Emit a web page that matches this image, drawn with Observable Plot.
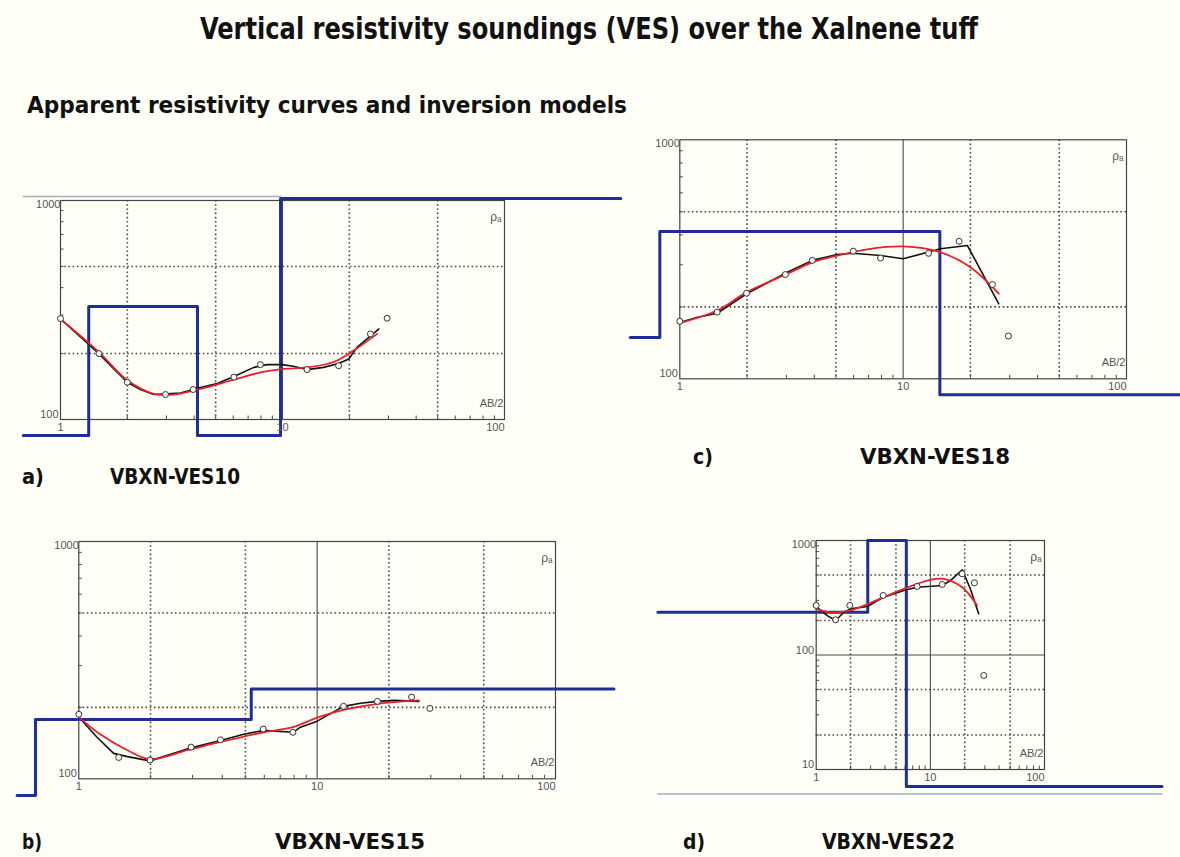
<!DOCTYPE html>
<html><head><meta charset="utf-8">
<script src="https://cdn.jsdelivr.net/npm/d3@7"></script>
<script src="https://cdn.jsdelivr.net/npm/@observablehq/plot@0.6"></script>
<style>
html,body{margin:0;padding:0;background:#fffff7;}
#page{position:relative;width:1180px;height:857px;overflow:hidden;background:#fffff7;}
.t{position:absolute;white-space:nowrap;font-family:"Liberation Sans Narrow","DejaVu Sans Condensed",sans-serif;font-weight:bold;color:#111;transform-origin:0 0;line-height:1;}
.panel{position:absolute;}
</style></head><body><div id="page"></div>
<script>
// ---------- VES10 (a) ----------
const ves10ObsAB  = [1, 1.49, 2.0, 2.97, 3.96, 6.04, 7.95, 12.9, 17.9, 24.9, 29.6];
const ves10ObsRho = [289, 200, 148, 130, 137, 156, 178, 169, 176, 246, 290];
const ves10FieldAB  = [1, 1.23, 1.49, 1.74, 2.0, 2.29, 2.63, 3.47, 4.27, 5.08, 6.04, 7.43, 8.53, 9.96, 11.2, 12.9, 15.3, 17.9, 19.9, 21.7, 27.2];
const ves10FieldRho = [288, 238, 200, 170, 148, 137, 130, 132, 140, 146, 157, 173, 178, 178, 175, 169, 173, 180, 189, 214, 259];
const ves10FitAB  = [1, 1.49, 2.0, 2.63, 3.24, 4.27, 6.04, 7.95, 9.96, 12.9, 17.0, 21.0, 26.7];
const ves10FitRho = [288, 203, 151, 131, 130, 138, 152, 164, 170, 173, 183, 207, 246];
const ves10ModelAB  = [0.68, 1.34, 4.14, 9.8, 334];
const ves10ModelRho = [84.5, 328, 84.5, 1020, 1020];

// ---------- VES18 (c) ----------
const ves18ObsAB  = [1.0, 1.47, 1.99, 2.97, 3.92, 5.98, 7.92, 13.0, 17.8, 25.1, 29.6];
const ves18ObsRho = [174, 190, 228, 273, 313, 342, 320, 335, 376, 248, 151];
const ves18FieldAB  = [1.0, 1.20, 1.47, 1.99, 3.03, 3.92, 5.07, 5.98, 7.92, 10.0, 13.0, 14.7, 19.4, 26.8];
const ves18FieldRho = [172, 181, 188, 227, 279, 313, 331, 335, 328, 318, 339, 350, 361, 206];
const ves18FitAB  = [1.0, 1.47, 1.99, 3.03, 3.92, 5.07, 7.14, 10.0, 14.6, 20.0, 26.8];
const ves18FitRho = [171, 193, 230, 275, 307, 328, 350, 358, 339, 293, 227];
const ves18ModelAB  = [0.60, 0.814, 14.6, 174];
const ves18ModelRho = [149, 413, 85.8, 85.8];

// ---------- VES15 (b) ----------
const ves15ObsAB  = [1.0, 1.47, 1.99, 2.96, 3.93, 5.94, 7.91, 12.9, 17.9, 24.9, 29.7];
const ves15ObsRho = [187, 123, 120, 136, 146, 162, 157, 202, 212, 221, 198];
const ves15FieldAB  = [1.0, 1.19, 1.40, 1.60, 1.99, 2.96, 3.93, 4.92, 5.94, 7.91, 8.51, 10.0, 12.9, 15.2, 17.9, 21.0, 26.7];
const ves15FieldRho = [182, 150, 128, 124, 119, 135, 145, 154, 160, 157, 165, 175, 202, 208, 212, 214, 212];
const ves15FitAB  = [1.0, 1.23, 1.60, 1.99, 2.85, 3.93, 5.94, 7.91, 10.0, 12.9, 17.9, 26.7];
const ves15FitRho = [182, 154, 132, 121, 132, 143, 157, 165, 181, 195, 207, 214];
const ves15ModelAB  = [0.551, 0.658, 5.29, 176];
const ves15ModelRho = [85, 178, 239, 239];

// ---------- VES22 (d) ----------
const ves22ObsAB  = [1.0, 1.48, 1.97, 3.86, 7.66, 12.7, 19.0, 24.3, 29.4];
const ves22ObsRho = [271, 203, 271, 331, 397, 413, 512, 427, 66.2];
const ves22FieldAB  = [1.0, 1.25, 1.48, 1.75, 2.0, 2.80, 3.91, 5.85, 7.66, 12.7, 15.0, 19.0, 22.4, 26.5];
const ves22FieldRho = [265, 221, 200, 236, 253, 265, 320, 366, 391, 404, 447, 555, 379, 229];
const ves22FitAB  = [1.0, 1.33, 2.0, 3.91, 5.85, 10.0, 13.1, 19.0, 25.7];
const ves22FitRho = [253, 236, 245, 320, 379, 454, 463, 391, 271];
const ves22ModelAB  = [0.041, 2.83, 6.16, 1070];
const ves22ModelRho = [236, 1000, 7.1, 7.1];

// ---------- axes ----------
const xTickLabels = [1, 10, 100];
const xGridDotted = [2, 5, 20, 50];
const xGridSolid = [10];
const xMinor = [2, 3, 4, 5, 6, 7, 8, 9, 20, 30, 40, 50, 60, 70, 80, 90];
const yMinor1 = [200, 300, 400, 500, 600, 700, 800, 900];
const yMinor2 = [20, 30, 40, 50, 60, 70, 80, 90, 200, 300, 400, 500, 600, 700, 800, 900];
const yGrid1 = [200, 500];
const yGrid2 = [20, 50, 200, 500];

const page = document.getElementById("page");
const zip = (a, b) => a.map((v, i) => ({ab: v, rho: b[i]}));

function panel(o) {
  const [fx0, fy0, fx1, fy1] = o.frame;
  const ml = fx0 - o.left, mt = fy0 - o.top, mr = o.left + o.width - fx1, mb = o.top + o.height - fy1;
  const pxDecX = (fx1 - fx0) / 2;
  const pxDecY = (fy1 - fy0) / Math.log10(o.yDomain[1] / o.yDomain[0]);
  const tx = Math.pow(10, 3.5 / pxDecX), ty = Math.pow(10, 3.5 / pxDecY);
  const y0 = o.yDomain[0];
  const gray = "#4a4a4a";
  const lbl = {fill: "#555", fontSize: 11, fontFamily: "Liberation Sans, Arial, sans-serif"};
  const marks = [
    Plot.ruleX(xGridDotted, {stroke: gray, strokeWidth: 1.6, strokeDasharray: "1.6,2.6"}),
    Plot.ruleY(o.yGrid, {stroke: gray, strokeWidth: 1.6, strokeDasharray: "1.6,2.6"}),
    Plot.ruleX(xGridSolid, {stroke: gray, strokeWidth: 1.1}),
    Plot.ruleY(o.ySolid || [], {stroke: gray, strokeWidth: 1.1}),
    Plot.ruleY(o.yMinor, {x1: 1, x2: tx, stroke: gray, strokeWidth: 1}),
    Plot.ruleX(xMinor, {y1: y0, y2: y0 * ty, stroke: gray, strokeWidth: 1}),
    Plot.frame({stroke: "#444", strokeWidth: 1.2}),
  ];
  if (o.extra) marks.push(Plot.line(o.extra, {x: "ab", y: "rho", stroke: "#9fb0c2", strokeWidth: 1.5}));
  marks.push(
    Plot.line(zip(o.modelAB, o.modelRho), {x: "ab", y: "rho", curve: "step-after", stroke: "#1c2f96", strokeWidth: 3}),
    Plot.line(zip(o.fieldAB, o.fieldRho), {x: "ab", y: "rho", stroke: "#111", strokeWidth: 1.6, curve: "linear"}),
    Plot.line(zip(o.fitAB, o.fitRho), {x: "ab", y: "rho", stroke: "#e8202a", strokeWidth: 1.8, curve: "catmull-rom"}),
    Plot.dot(zip(o.obsAB, o.obsRho), {x: "ab", y: "rho", r: 3, stroke: "#333", fill: "white", strokeWidth: 1}),
    Plot.text([xTickLabels[0], xTickLabels[1]], {x: d => d, text: d => String(d), frameAnchor: "bottom", dy: 11, ...lbl}),
    Plot.text([xTickLabels[2]], {x: d => d, text: d => String(d), frameAnchor: "bottom", textAnchor: "end", dy: 11, ...lbl}),
    Plot.text([o.yDomain[1]], {y: d => d, text: d => String(d), frameAnchor: "left", textAnchor: "end", dx: 0, dy: 4, ...lbl}),
    Plot.text(o.yLow, {y: d => d, text: d => String(d), frameAnchor: "left", textAnchor: "end", dx: -2, dy: -5, ...lbl}),
    Plot.text(["ρₐ"], {frameAnchor: "top-right", dx: -3, dy: 12, text: d => d, ...lbl, fontSize: 12}),
    Plot.text(["AB/2"], {frameAnchor: "bottom-right", dx: -1, dy: -13, text: d => d, ...lbl}),
  );
  const chart = Plot.plot({
    width: o.width, height: o.height,
    marginLeft: ml, marginTop: mt, marginRight: mr, marginBottom: mb,
    x: {type: "log", domain: [1, 100], axis: null},
    y: {type: "log", domain: o.yDomain, axis: null},
    style: {background: "transparent", overflow: "visible"},
    marks
  });
  chart.classList.add("panel");
  chart.style.left = o.left + "px";
  chart.style.top = o.top + "px";
  page.appendChild(chart);
}

panel({left: 0, top: 180, width: 640, height: 270, frame: [60, 200, 504, 419], yDomain: [100, 1000], yLow: [100],
  yGrid: yGrid1, yMinor: yMinor1,
  obsAB: ves10ObsAB, obsRho: ves10ObsRho, fieldAB: ves10FieldAB, fieldRho: ves10FieldRho,
  fitAB: ves10FitAB, fitRho: ves10FitRho, modelAB: ves10ModelAB, modelRho: ves10ModelRho,
  extra: [{ab: 0.68, rho: 1042}, {ab: 9.8, rho: 1042}]});
panel({left: 620, top: 120, width: 560, height: 290, frame: [679.3, 139.3, 1126, 378.3], yDomain: [100, 1000], yLow: [100],
  yGrid: yGrid1, yMinor: yMinor1,
  obsAB: ves18ObsAB, obsRho: ves18ObsRho, fieldAB: ves18FieldAB, fieldRho: ves18FieldRho,
  fitAB: ves18FitAB, fitRho: ves18FitRho, modelAB: ves18ModelAB, modelRho: ves18ModelRho});
panel({left: 0, top: 520, width: 640, height: 290, frame: [78.3, 541, 555, 778.3], yDomain: [100, 1000], yLow: [100],
  yGrid: yGrid1, yMinor: yMinor1,
  obsAB: ves15ObsAB, obsRho: ves15ObsRho, fieldAB: ves15FieldAB, fieldRho: ves15FieldRho,
  fitAB: ves15FitAB, fitRho: ves15FitRho, modelAB: ves15ModelAB, modelRho: ves15ModelRho});
panel({left: 640, top: 520, width: 540, height: 290, frame: [815.7, 540, 1044, 769], yDomain: [10, 1000], yLow: [100, 10],
  yGrid: yGrid2, yMinor: yMinor2, ySolid: [100],
  obsAB: ves22ObsAB, obsRho: ves22ObsRho, fieldAB: ves22FieldAB, fieldRho: ves22FieldRho,
  fitAB: ves22FitAB, fitRho: ves22FitRho, modelAB: ves22ModelAB, modelRho: ves22ModelRho,
  extra: [{ab: 0.041, rho: 6.1}, {ab: 1070, rho: 6.1}]});

// ---------- texts ----------
function fitText(str, left, top, width, size) {
  const s = document.createElement("span");
  s.className = "t";
  s.textContent = str;
  s.style.left = left + "px";
  s.style.top = top + "px";
  s.style.fontSize = size + "px";
  page.appendChild(s);
  const w = s.getBoundingClientRect().width;
  s.style.transform = `scaleX(${width / w})`;
}
fitText("Vertical resistivity soundings (VES) over the Xalnene tuff", 200, 13, 778, 31);
fitText("Apparent resistivity curves and inversion models", 27, 94, 600, 23);
fitText("a)", 22, 467, 22, 21);
fitText("VBXN-VES10", 110, 467, 130, 21);
fitText("c)", 693, 447, 20, 21);
fitText("VBXN-VES18", 860, 447, 150, 21);
fitText("b)", 22, 832, 20, 21);
fitText("VBXN-VES15", 275, 832, 150, 21);
fitText("d)", 683, 832, 22, 21);
fitText("VBXN-VES22", 822, 832, 133, 21);
</script></body></html>
